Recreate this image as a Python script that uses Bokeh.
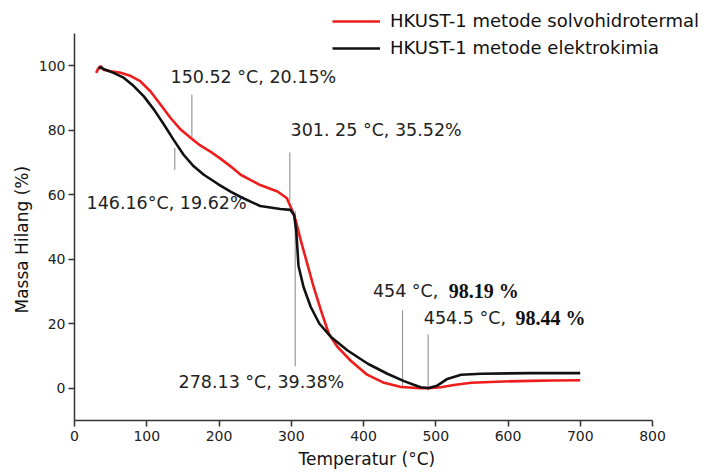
from bokeh.plotting import figure
from bokeh.models import Range1d, Label, Legend, LegendItem, Title
from bokeh.embed import file_html
from bokeh.resources import INLINE

# ---- data ----
temp_solvo = [30, 33, 36, 40, 50, 64, 78, 91, 105, 119, 133, 147, 161, 174, 188, 202, 216, 230,
              257, 281, 294, 301, 306, 313, 322, 331, 341, 352, 364, 382, 405, 427, 452, 479,
              490, 507, 525, 549, 594, 631, 660, 700]
mass_solvo = [97.8, 99.2, 99.9, 98.8, 98.3, 97.8, 96.8, 95.2, 92.1, 88.0, 83.8, 80.2, 77.6, 75.3,
              73.4, 71.2, 68.8, 66.2, 63.0, 61.0, 58.9, 55.3, 52.2, 46.0, 38.7, 31.4, 24.2, 16.9,
              12.8, 8.6, 4.2, 1.8, 0.4, 0.0, 0.0, 0.3, 1.0, 1.7, 2.1, 2.3, 2.4, 2.5]

temp_elektro = [34, 36, 40, 54, 68, 82, 96, 110, 124, 137, 151, 165, 179, 198, 216, 230, 257, 285,
                299, 304, 307, 310, 317, 327, 339, 355, 378, 406, 433, 456, 479, 490, 502, 516,
                535, 563, 631, 700]
mass_elektro = [99.0, 99.6, 99.0, 97.8, 96.3, 93.7, 90.5, 86.4, 81.7, 77.1, 72.4, 68.8, 66.2, 63.4,
                61.0, 59.3, 56.5, 55.6, 55.3, 53.7, 48.5, 38.0, 31.4, 25.2, 20.0, 15.9, 11.7, 7.6,
                4.5, 2.2, 0.3, 0.1, 0.8, 2.9, 4.2, 4.5, 4.7, 4.7]

series_names = ["HKUST-1 metode solvohidrotermal", "HKUST-1 metode elektrokimia"]

# annotation markers (temperature, lower %, upper %)
mark_x = [162.4, 138.8, 298.0, 305.5, 454.0, 489.5]
mark_y0 = [77.0, 67.7, 58.0, 6.8, 0.3, -0.7]
mark_y1 = [91.0, 74.5, 73.1, 55.0, 24.2, 16.7]

ann_plain = ["150.52 \u00b0C, 20.15%", "146.16\u00b0C, 19.62%", "301. 25 \u00b0C, 35.52%",
             "278.13 \u00b0C, 39.38%", "454 \u00b0C,", "454.5 \u00b0C,"]
ann_plain_x = [132.9, 16.6, 299.0, 144.0, 413.0, 483.5]
ann_plain_y = [96.6, 57.5, 80.2, 1.9, 30.1, 21.8]
ann_bold = ["98.19 %", "98.44 %"]
ann_bold_x = [518.0, 610.4]
ann_bold_y = [30.1, 21.8]

x_ticks = [0, 100, 200, 300, 400, 500, 600, 700, 800]
y_ticks = [0, 20, 40, 60, 80, 100]
x_axis_bounds = (0, 800)
y_axis_bounds = (-10, 110)

FONT = "DejaVu Sans"

p = figure(width=710, height=473, output_backend="svg", toolbar_location=None,
           x_range=Range1d(0, 877.5), y_range=Range1d(-10, 117.75),
           min_border_left=74, min_border_right=2, min_border_top=8, min_border_bottom=53)
p.outline_line_color = None
p.xgrid.grid_line_color = None
p.ygrid.grid_line_color = None
p.background_fill_color = "white"
p.border_fill_color = "white"

for ax in (p.xaxis[0], p.yaxis[0]):
    ax.axis_line_color = "#333333"
    ax.axis_line_width = 1.5
    ax.major_tick_line_color = "#333333"
    ax.minor_tick_line_color = "#333333"
    ax.major_tick_line_width = 1.5
    ax.minor_tick_line_width = 1.2
    ax.major_tick_out = 6
    ax.major_tick_in = 0
    ax.minor_tick_out = 4
    ax.minor_tick_in = 0
    ax.major_label_text_font = FONT
    ax.major_label_text_font_size = "14px"
    ax.major_label_text_color = "#222222"

p.xaxis.bounds = x_axis_bounds
p.yaxis.bounds = y_axis_bounds
p.xaxis.ticker = x_ticks
p.yaxis.ticker = y_ticks
p.xaxis[0].ticker.num_minor_ticks = 2
p.yaxis[0].ticker.num_minor_ticks = 2
p.xaxis.major_label_standoff = 4
p.yaxis.major_label_standoff = 3

# axis titles, placed like the reference
p.add_layout(Title(text="Temperatur (\u00b0C)", align="left", offset=224, standoff=6,
                   vertical_align="bottom", text_font=FONT, text_font_style="normal",
                   text_font_size="17px", text_color="#111111"), "below")
p.add_layout(Title(text="Massa Hilang (%)", align="left", offset=107, standoff=6,
                   vertical_align="middle", text_font=FONT, text_font_style="normal",
                   text_font_size="17px", text_color="#111111"), "left")

# annotation marker lines
p.segment(x0=mark_x, y0=mark_y0, x1=mark_x, y1=mark_y1, line_color="#999999", line_width=1.2)

r_solvo = p.line(temp_solvo, mass_solvo, line_color="#ee1c1c", line_width=2.6)
r_elektro = p.line(temp_elektro, mass_elektro, line_color="#111111", line_width=2.6)

for t, x, y in zip(ann_plain, ann_plain_x, ann_plain_y):
    p.add_layout(Label(x=x, y=y, text=t, text_font=FONT, text_font_size="17.5px",
                       text_color="#222222", text_baseline="middle", text_align="left"))
for t, x, y in zip(ann_bold, ann_bold_x, ann_bold_y):
    p.add_layout(Label(x=x, y=y, text=t, text_font="Liberation Serif", text_font_style="bold",
                       text_font_size="20px", text_color="#111111",
                       text_baseline="middle", text_align="left"))

legend = Legend(items=[LegendItem(label=series_names[0], renderers=[r_solvo]),
                       LegendItem(label=series_names[1], renderers=[r_elektro])],
                location=(258, 362), orientation="vertical",
                glyph_width=48, glyph_height=20, label_height=20, spacing=6,
                label_standoff=10, padding=0, margin=0,
                border_line_alpha=0, background_fill_alpha=0,
                label_text_font=FONT, label_text_font_size="18px", label_text_color="#111111")
p.add_layout(legend, "center")

open("out.html", "w").write(file_html(p, INLINE))
